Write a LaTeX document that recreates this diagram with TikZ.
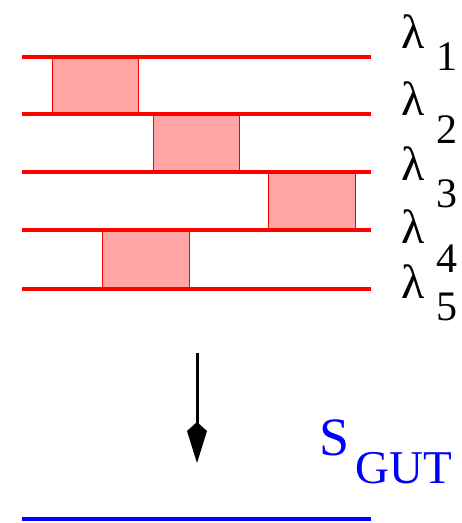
\documentclass[tikz,border=0pt]{standalone}
\usepackage{fontspec}
\setmainfont{Liberation Serif}
\begin{document}
\begin{tikzpicture}[x=1pt,y=-1pt,
  level/.style={red,line width=4pt},
  bandbox/.style={fill={rgb,255:red,255;green,165;blue,165},draw=red,line width=1pt},
  lab/.style={anchor=base west,inner sep=0pt,font=\fontsize{42}{50}\selectfont},
  lam/.style={anchor=base west,inner sep=0pt,font=\fontsize{48}{56}\selectfont},
  gut/.style={blue,line width=4pt}]
\useasboundingbox (0,0) rectangle (462,523);
% boxes
\draw[bandbox] (52,57) rectangle (138,114);
\draw[bandbox] (153,114) rectangle (239,172);
\draw[bandbox] (268,172) rectangle (355,230);
\draw[bandbox] (102,230) rectangle (189,289);
% levels
\foreach \y in {57,114,172,230,289} \draw[level] (22,\y) -- (371,\y);
% labels
\node[lam] (l1) at (401,48) {λ};  \node[lab] (s1) at (436,70) {1};
\node[lam] (l2) at (401,115) {λ}; \node[lab] (s2) at (436,143) {2};
\node[lam] (l3) at (401,180) {λ}; \node[lab] (s3) at (436,207) {3};
\node[lam] (l4) at (401,243) {λ}; \node[lab] (s4) at (436,272) {4};
\node[lam] (l5) at (401,298) {λ}; \node[lab] (s5) at (436,320) {5};
% arrow
\coordinate (a0) at (197,353);
\coordinate (a1) at (197,426);
\coordinate (tip) at (197,463);
\draw[line width=3pt] (a0) -- (a1);
\fill (197,422) -- (207,431) -- (tip) -- (187,431) -- cycle;
% S_GUT
\node[lab,blue,font=\fontsize{54}{60}\selectfont] (S) at (319,455) {S};
\node[lab,blue,font=\fontsize{47}{56}\selectfont] (G) at (355,483) {GUT};
\draw[gut] (22,519) -- (371,519);
\end{tikzpicture}
\end{document}
